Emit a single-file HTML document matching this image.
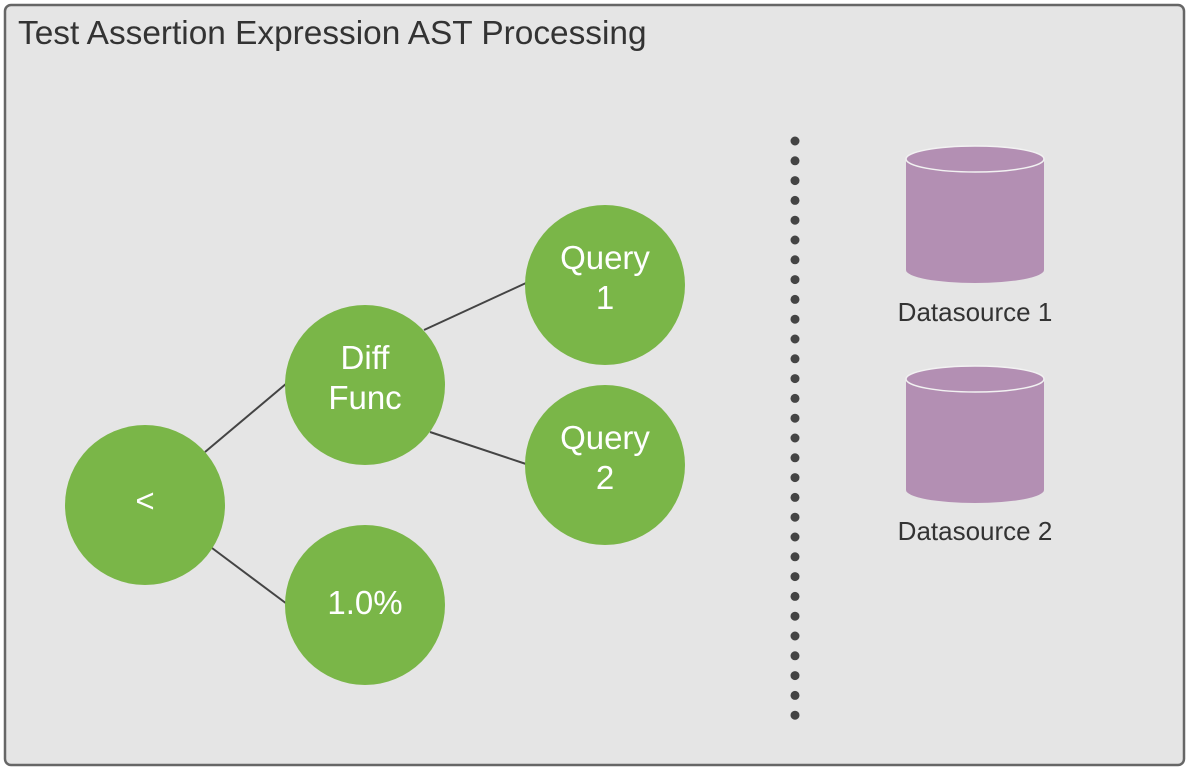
<!DOCTYPE html>
<html><head><style>body{margin:0;background:#fff}</style></head><body>
<svg width="1190" height="771" xmlns="http://www.w3.org/2000/svg" font-family="Liberation Sans, sans-serif">
<rect x="5" y="5" width="1179" height="760" rx="6" fill="#e5e5e5" stroke="#666" stroke-width="2.5"/>
<text x="18" y="44" font-size="33.4" fill="#333">Test Assertion Expression AST Processing</text>
<g stroke="#444" stroke-width="2">
<line x1="205" y1="452" x2="287" y2="383"/>
<line x1="212" y1="548" x2="287" y2="604"/>
<line x1="424" y1="330" x2="526" y2="283"/>
<line x1="430" y1="432" x2="526" y2="464"/>
</g>
<g fill="#7ab648">
<circle cx="145" cy="505" r="80"/>
<circle cx="365" cy="385" r="80"/>
<circle cx="605" cy="285" r="80"/>
<circle cx="605" cy="465" r="80"/>
<circle cx="365" cy="605" r="80"/>
</g>
<g fill="#fff" font-size="33" text-anchor="middle">
<text x="145" y="512">&lt;</text>
<text x="365" y="369">Diff</text><text x="365" y="409">Func</text>
<text x="605" y="269">Query</text><text x="605" y="309">1</text>
<text x="605" y="449">Query</text><text x="605" y="489">2</text>
<text x="365" y="614">1.0%</text>
</g>
<line x1="795" y1="141" x2="795" y2="716" stroke="#444" stroke-width="9" stroke-linecap="round" stroke-dasharray="0 19.8"/>
<g>
<path d="M906 159 L906 270 A69 13 0 0 0 1044 270 L1044 159 Z" fill="#b38fb3"/>
<ellipse cx="975" cy="159" rx="69" ry="13" fill="#b38fb3" stroke="#f2f2f2" stroke-width="1.5"/>
<path d="M906 379 L906 490 A69 13 0 0 0 1044 490 L1044 379 Z" fill="#b38fb3"/>
<ellipse cx="975" cy="379" rx="69" ry="13" fill="#b38fb3" stroke="#f2f2f2" stroke-width="1.5"/>
</g>
<g font-size="26" fill="#333" text-anchor="middle">
<text x="975" y="321">Datasource 1</text>
<text x="975" y="540">Datasource 2</text>
</g>
</svg>
</body></html>
